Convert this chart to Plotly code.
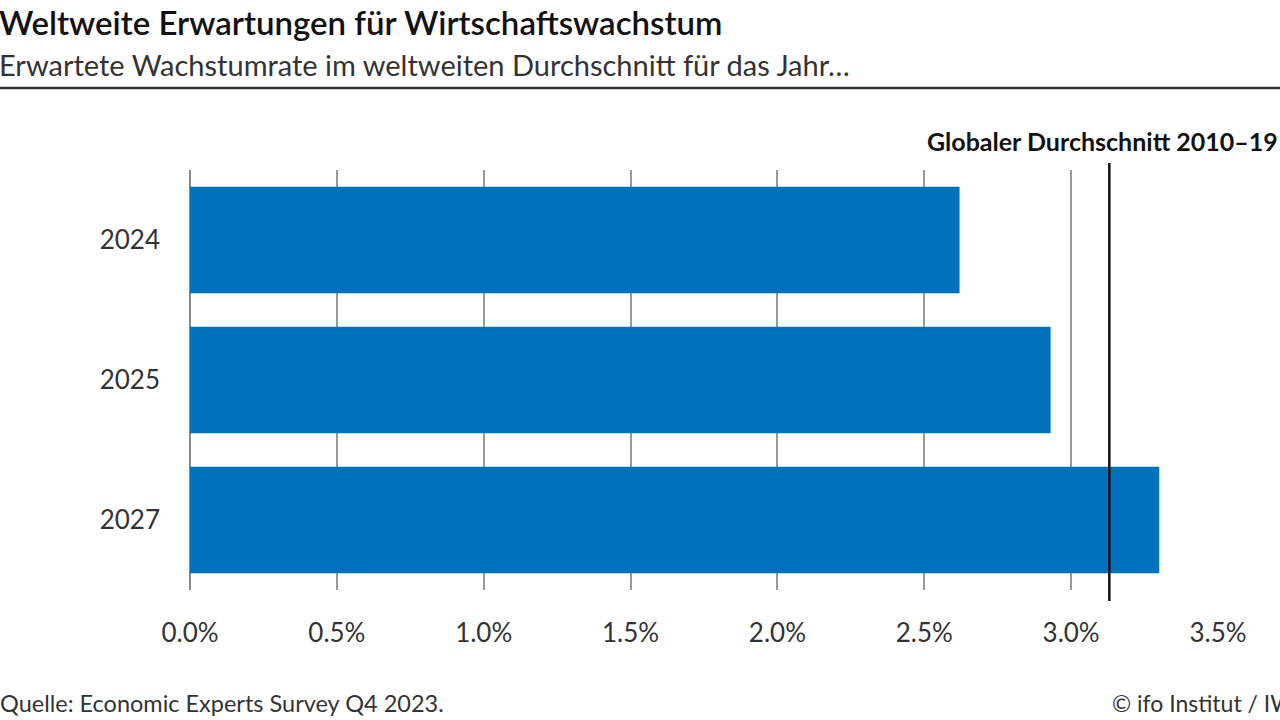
import plotly.graph_objects as go

# Data
years = ["2024", "2025", "2027"]
growth = [2.62, 2.93, 3.30]
avg_2010_19 = 3.13
tick_vals = [0, 0.5, 1.0, 1.5, 2.0, 2.5, 3.0, 3.5]
tick_text = ["0.0%", "0.5%", "1.0%", "1.5%", "2.0%", "2.5%", "3.0%", "3.5%"]

FONT = "Lato"
W, H = 1280, 720
L, R, T, B = 190, 62, 170, 130
plot_w = W - L - R
plot_h = H - T - B


# helpers: screen pixel -> paper coordinate
def px_x(px):
    return (px - L) / plot_w


def px_y(py):
    return (H - B - py) / plot_h


fig = go.Figure()

fig.add_trace(go.Bar(
    x=growth,
    y=years,
    orientation="h",
    marker=dict(color="#0071BC", line=dict(width=0)),
    hoverinfo="x+y",
    showlegend=False,
))

# Reference line: global average 2010-19
fig.add_shape(
    type="line", xref="x", yref="paper",
    x0=avg_2010_19, x1=avg_2010_19, y0=px_y(601), y1=px_y(163),
    line=dict(color="#111111", width=2.5), layer="above",
)
fig.add_annotation(
    x=px_x(925), y=px_y(141), xref="paper", yref="paper",
    xanchor="left", yanchor="middle", showarrow=False,
    text="Globaler Durchschnitt 2010–19",
    font=dict(family=FONT, size=25, color="#111111", weight=700),
)

# Header
fig.add_annotation(
    x=px_x(-3), y=px_y(22), xref="paper", yref="paper",
    xanchor="left", yanchor="middle", showarrow=False,
    text="Weltweite Erwartungen für Wirtschaftswachstum",
    font=dict(family=FONT, size=33, color="#111111", weight=600),
)
fig.add_annotation(
    x=px_x(-3), y=px_y(64), xref="paper", yref="paper",
    xanchor="left", yanchor="middle", showarrow=False,
    text="Erwartete Wachstumrate im weltweiten Durchschnitt für das Jahr…",
    font=dict(family=FONT, size=29, color="#333333"),
)
fig.add_shape(
    type="line", xref="paper", yref="paper",
    x0=px_x(0), x1=px_x(W), y0=px_y(88), y1=px_y(88),
    line=dict(color="#333333", width=2.5),
)

# Footer
fig.add_annotation(
    x=px_x(-2), y=px_y(703), xref="paper", yref="paper",
    xanchor="left", yanchor="middle", showarrow=False,
    text="Quelle: Economic Experts Survey Q4 2023.",
    font=dict(family=FONT, size=23.5, color="#333333"),
)
fig.add_annotation(
    x=px_x(1110), y=px_y(703), xref="paper", yref="paper",
    xanchor="left", yanchor="middle", showarrow=False,
    text="© ifo Institut / IW",
    font=dict(family=FONT, size=23, color="#333333"),
)

fig.update_layout(
    width=W, height=H,
    margin=dict(l=L, r=R, t=T, b=B),
    paper_bgcolor="white", plot_bgcolor="white",
    bargap=0.24,
    font=dict(family=FONT, color="#333333"),
)
fig.update_xaxes(
    range=[0, 3.5], tickvals=tick_vals, ticktext=tick_text,
    showgrid=True, gridcolor="#999999", gridwidth=1.5,
    zeroline=True, zerolinecolor="#888888", zerolinewidth=1.5,
    showline=False, ticks="", ticklabelstandoff=25,
    tickfont=dict(family=FONT, size=26, color="#333333"),
)
fig.update_yaxes(
    type="category", autorange="reversed",
    showgrid=False, showline=False, ticks="", ticklabelstandoff=29,
    tickfont=dict(family=FONT, size=26, color="#333333"),
)

# drop the default page margin so the figure fills the window
fig.write_html(
    "out.html",
    config={"displayModeBar": False},
    post_script="document.body.style.margin='0';",
)
